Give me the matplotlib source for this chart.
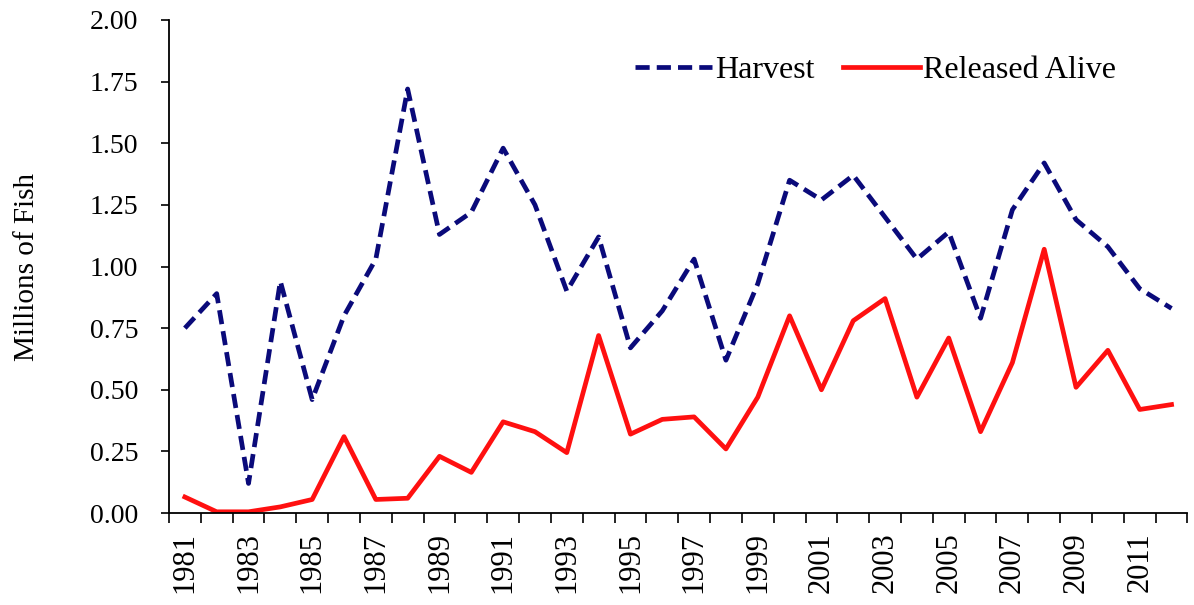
import numpy as np
import matplotlib
matplotlib.use("Agg")
import matplotlib.pyplot as plt
from matplotlib.ticker import FixedLocator, NullFormatter

years = list(range(1981, 2013))
harvest = [0.75, 0.89, 0.12, 0.94, 0.46, 0.80, 1.03, 1.72, 1.13, 1.22,
           1.48, 1.25, 0.90, 1.12, 0.67, 0.82, 1.03, 0.62, 0.93, 1.35,
           1.27, 1.37, 1.20, 1.03, 1.14, 0.79, 1.23, 1.42, 1.19, 1.08,
           0.91, 0.83]
released = [0.065, 0.005, 0.005, 0.025, 0.055, 0.31, 0.055, 0.06, 0.23, 0.165,
            0.37, 0.33, 0.245, 0.72, 0.32, 0.38, 0.39, 0.26, 0.47, 0.80,
            0.50, 0.78, 0.87, 0.47, 0.71, 0.33, 0.61, 1.07, 0.51, 0.66,
            0.42, 0.44]
y_ticks = [0.0, 0.25, 0.5, 0.75, 1.0, 1.25, 1.5, 1.75, 2.0]

plt.rcParams["font.family"] = ["Liberation Serif", "DejaVu Serif"]

fig = plt.figure(figsize=(11.94, 6.05), dpi=100)
ax = fig.add_axes([0.1415, 0.152, 0.853, 0.815])

x = np.arange(len(years))
ax.plot(x, harvest, color="#0a0a7a", lw=3.4, ls=(0, (3, 1.5)), label="Harvest")
ax.plot(x, released, color="#ff1010", lw=3.4, label="Released Alive")

ax.set_xlim(-0.5, len(years) - 0.5)
ax.set_ylim(0, 2.0)

# labels at category centres, tick marks between categories
ax.set_xticks(x[::2])
ax.set_xticklabels([str(yr) for yr in years[::2]], rotation=90, fontsize=22)
ax.tick_params(axis="x", which="major", length=0, pad=14)
ax.xaxis.set_minor_locator(FixedLocator(np.arange(-0.5, len(years), 1.0)))
ax.xaxis.set_minor_formatter(NullFormatter())
ax.tick_params(axis="x", which="minor", length=7, width=1.2, direction="out")

ax.set_yticks(y_ticks)
ax.set_yticklabels([f"{v:.2f}" for v in y_ticks], fontsize=20)
ax.tick_params(axis="y", length=6, width=1.2, direction="out", pad=16)

ax.set_ylabel("Millions of Fish", fontsize=21, labelpad=36)

for side in ["top", "right"]:
    ax.spines[side].set_visible(False)
for side in ["left", "bottom"]:
    ax.spines[side].set_linewidth(1.3)

ax.legend(loc="upper right", bbox_to_anchor=(0.958, 0.985), ncol=2, frameon=False,
          fontsize=23, handlelength=2.4, handletextpad=0.1, columnspacing=0.9)

fig.savefig("out.png", dpi=100)
